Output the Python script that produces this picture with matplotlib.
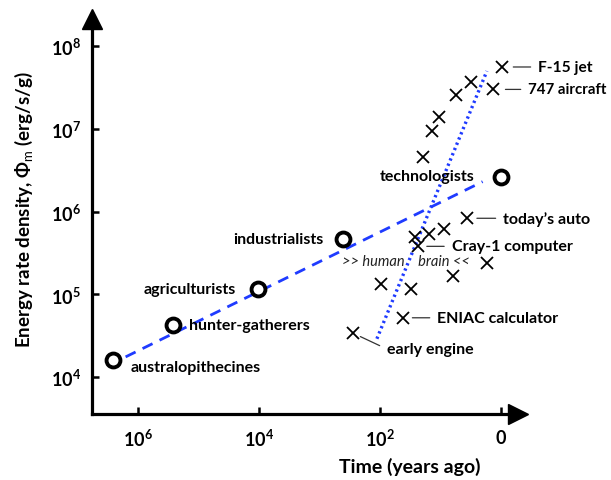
import matplotlib
matplotlib.use("Agg")
import matplotlib.pyplot as plt

plt.rcParams['font.family'] = ['Lato', 'DejaVu Sans']
plt.rcParams['mathtext.fontset'] = 'custom'
plt.rcParams['mathtext.rm'] = 'Lato'
plt.rcParams['mathtext.bf'] = 'Lato:bold'
plt.rcParams['mathtext.it'] = 'Lato:italic'

# ---- data ----
society_labels = ["australopithecines", "hunter-gatherers", "agriculturists",
                  "industrialists", "technologists"]
society_years = [2.6e6, 2.6e5, 1.05e4, 410, 1.0]
society_phi = [1.6e4, 4.2e4, 1.15e5, 4.6e5, 2.6e6]

machine_years = [0.95, 1.35, 3.1, 5.5, 10.5, 13.8, 19.5, 3.6, 8.7, 15.5, 26,
                 23, 1.7, 6.2, 96, 30, 42, 280]
machine_phi = [5.6e7, 3.0e7, 3.7e7, 2.6e7, 1.4e7, 9.4e6, 4.6e6, 8.3e5, 6.2e5,
               5.4e5, 4.9e5, 3.8e5, 2.4e5, 1.66e5, 1.33e5, 1.16e5, 5.2e4, 3.4e4]
machine_labels = {0: "F-15 jet", 1: "747 aircraft", 7: "today\u2019s auto",
                  11: "Cray-1 computer", 16: "ENIAC calculator", 17: "early engine"}

bio_fit_years = [1.6e6, 2.0]
bio_fit_phi = [1.75e4, 2.3e6]
tech_fit_years = [112, 1.7]
tech_fit_phi = [2.9e4, 5.0e7]

brain_years, brain_phi = 37, 2.5e5

xtick_vals = [1e6, 1e4, 1e2, 1]
xtick_labels = [r"$\mathbf{10^{6}}$", r"$\mathbf{10^{4}}$", r"$\mathbf{10^{2}}$", r"$\mathbf{0}$"]
ytick_vals = [1e4, 1e5, 1e6, 1e7, 1e8]
ytick_labels = [r"$\mathbf{10^{4}}$", r"$\mathbf{10^{5}}$", r"$\mathbf{10^{6}}$",
                r"$\mathbf{10^{7}}$", r"$\mathbf{10^{8}}$"]

# ---- figure ----
W, H = 611, 481
fig = plt.figure(figsize=(W / 100, H / 100), dpi=100)
L, R, B, T = 92, 518, 415, 20
ax = fig.add_axes([L / W, 1 - B / H, (R - L) / W, (B - T) / H])
ax.set_xscale('log')
ax.set_yscale('log')
ax.set_xlim(5.75e6, 0.52)
ax.set_ylim(3.57e3, 2.13e8)

for s in ['top', 'right']:
    ax.spines[s].set_visible(False)
for s in ['left', 'bottom']:
    ax.spines[s].set_linewidth(2.3)
ax.plot([0], [1], marker='^', markersize=14, color='black', transform=ax.transAxes, clip_on=False)
ax.plot([1], [0], marker='>', markersize=14, color='black', transform=ax.transAxes, clip_on=False)

ax.set_xticks(xtick_vals)
ax.set_xticklabels(xtick_labels)
ax.set_yticks(ytick_vals)
ax.set_yticklabels(ytick_labels)
ax.minorticks_off()
ax.tick_params(axis='both', direction='in', length=5, width=1.8, labelsize=13)
ax.tick_params(axis='x', pad=10)
ax.tick_params(axis='y', pad=8)

# fit lines
ax.plot(bio_fit_years, bio_fit_phi, color='#1f3bff', lw=2.0, ls=(0, (4, 2.8)))
ax.plot(tech_fit_years, tech_fit_phi, color='#1f3bff', lw=2.4, ls=(0, (0.7, 1.0)))

# markers
ax.plot(society_years, society_phi, 'o', ms=10, mfc='white', mec='black', mew=2.8, ls='none', zorder=5)
ax.plot(machine_years, machine_phi, 'x', ms=8, color='black', mew=1.3, ls='none', zorder=5)

# society labels
soc_off = [(13, -5, 'left'), (11.5, 0, 'left'), (-16, 0, 'right'), (-14, 0, 'right'), (-19, 1, 'right')]
for lab, xv, yv, (dx, dy, ha) in zip(society_labels, society_years, society_phi, soc_off):
    ax.annotate(lab, (xv, yv), xytext=(dx, dy), textcoords='offset points',
                ha=ha, va='center', fontsize=11.5, fontweight='bold')

# machine labels with leader lines
mach_off = {0: (26, 0, 8, 11.2), 1: (25.5, 0, 9, 10.8), 7: (26, 0, 7, 11.5),
            11: (24, 0, 6, 11.5), 16: (25, 0, 7, 11.5), 17: (24.5, -11.5, 6, 11.5)}
for i, lab in machine_labels.items():
    dx, dy, sb, fs = mach_off[i]
    ax.annotate(lab, (machine_years[i], machine_phi[i]), xytext=(dx, dy),
                textcoords='offset points', ha='left', va='center',
                fontsize=fs, fontweight='bold',
                arrowprops=dict(arrowstyle='-', color='#333333', lw=0.9,
                                shrinkA=3.5, shrinkB=sb, relpos=(0, 0.5)))

ax.text(brain_years, brain_phi, ">> human    brain <<", ha='center', va='center',
        fontsize=10.5, fontstyle='italic', color='#222222')

fig.text(24 / W, 1 - 210 / H, r"Energy rate density, $\mathbf{\Phi_{\rm m}}$ (erg/s/g)",
         rotation=90, ha='center', va='center', fontsize=13.5, fontweight='bold')
fig.text(410 / W, 1 - 467 / H, "Time (years ago)", ha='center', va='center',
         fontsize=14, fontweight='bold')

fig.savefig("out.png", dpi=100)
